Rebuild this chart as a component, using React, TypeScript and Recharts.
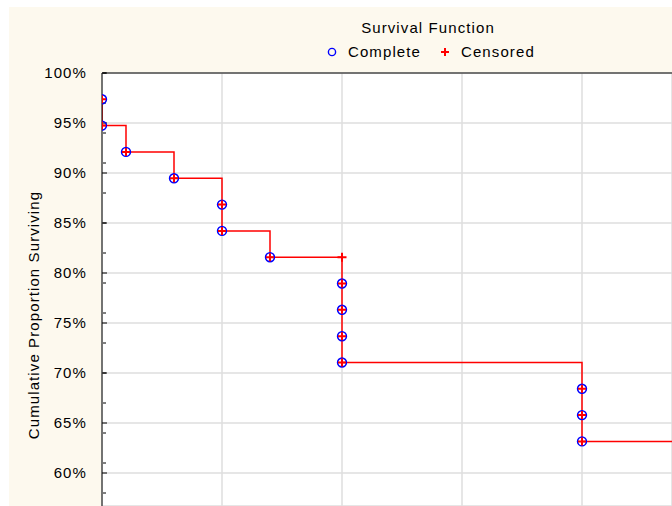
import React from 'react';
import {
  ComposedChart,
  Line,
  Scatter,
  XAxis,
  YAxis,
  CartesianGrid,
  Legend,
} from 'recharts';

// ---- data ----
const stepX = [0, 0, 2, 6, 10, 10, 14, 20, 20, 20, 20, 20, 40, 40, 40, 47.5];
const stepY = [97.37, 94.74, 92.11, 89.47, 86.84, 84.21, 81.58, 81.58, 78.95, 76.32, 73.68, 71.05, 68.42, 65.79, 63.16, 63.16];

const completeX = [0, 0, 2, 6, 10, 10, 14, 20, 20, 20, 20, 40, 40, 40];
const completeY = [97.37, 94.74, 92.11, 89.47, 86.84, 84.21, 81.58, 78.95, 76.32, 73.68, 71.05, 68.42, 65.79, 63.16];

const censoredX = [20];
const censoredY = [81.58];

const legendOrder = ['Complete', 'Censored'];

const xDomain = [0, 47.5];
const xGridTicks = [0, 10, 20, 30, 40];
const yDomain = [56.7, 100];
const yMajorTicks = [60, 65, 70, 75, 80, 85, 90, 95, 100];
const yMinorTicks = [57, 58, 59, 60, 61, 62, 63, 64, 65, 66, 67, 68, 69, 70, 71, 72, 73, 74, 75, 76, 77, 78, 79, 80, 81, 82, 83, 84, 85, 86, 87, 88, 89, 90, 91, 92, 93, 94, 95, 96, 97, 98, 99, 100];
const topDomain = [-1.242, 23.43];
const topMinorTicks = [-1, 0, 1, 2, 3, 4, 5, 6, 7, 8, 9, 10, 11, 12, 13, 14, 15, 16, 17, 18, 19, 20, 21, 22, 23];
const topMajorTicks = [0, 5, 10, 15, 20];

const stepData = stepX.map((x, i) => ({ x, y: stepY[i] }));
const completeData = completeX.map((x, i) => ({ x, y: completeY[i] }));
const censoredData = censoredX.map((x, i) => ({ x, y: censoredY[i] }));

const FONT = '"Liberation Sans", Arial, sans-serif';
const LS = 1.1;

const CompleteShape = (props: any) => {
  const { cx, cy } = props;
  return (
    <g>
      <circle cx={cx} cy={cy} r={4.4} fill="none" stroke="#0000ff" strokeWidth={1.6} />
      <path d={`M${cx - 4},${cy}H${cx + 4}M${cx},${cy - 4}V${cy + 4}`} stroke="#ff0000" strokeWidth={2} />
    </g>
  );
};

const CensoredShape = (props: any) => {
  const { cx, cy } = props;
  return (
    <path d={`M${cx - 4.5},${cy}H${cx + 4.5}M${cx},${cy - 4.5}V${cy + 4.5}`} stroke="#ff0000" strokeWidth={2} />
  );
};

const NoTick = () => <g />;

const LegendIcon = ({ name }: { name: string }) =>
  name === 'Complete' ? (
    <svg width={12} height={12} style={{ display: 'block' }}>
      <circle cx={6} cy={6} r={3.6} fill="none" stroke="#0000ff" strokeWidth={1.4} />
    </svg>
  ) : (
    <svg width={12} height={12} style={{ display: 'block' }}>
      <path d="M2,6H10M6,2V10" stroke="#ff0000" strokeWidth={2} />
    </svg>
  );

const renderLegend = (props: any) => {
  const items = (props.payload || [])
    .filter((p: any) => legendOrder.includes(p.value))
    .sort((a: any, b: any) => legendOrder.indexOf(a.value) - legendOrder.indexOf(b.value));
  return (
    <div style={{ position: 'relative', width: 672, height: 48, fontFamily: FONT, fontSize: 15, letterSpacing: LS, color: '#000' }}>
      <div style={{ position: 'absolute', left: 294, width: 268, top: 0, textAlign: 'center', whiteSpace: 'nowrap' }}>
        Survival Function
      </div>
      <div style={{ position: 'absolute', left: 326, top: 24, display: 'flex', alignItems: 'center', whiteSpace: 'nowrap' }}>
        {items.map((p: any, i: number) => (
          <div key={i} style={{ display: 'flex', alignItems: 'center', marginLeft: i === 0 ? 0 : 18 }}>
            <LegendIcon name={p.value} />
            <span style={{ marginLeft: 10 }}>{p.value}</span>
          </div>
        ))}
      </div>
    </div>
  );
};

const YLabel = (props: any) => {
  const vb = props.viewBox || { x: 42, y: 73, width: 60, height: 433 };
  const cx = vb.x - 8.5;
  const cy = vb.y + vb.height / 2 + 25.5;
  return (
    <text
      x={cx}
      y={cy}
      transform={`rotate(-90, ${cx}, ${cy})`}
      textAnchor="middle"
      dominantBaseline="central"
      fontFamily={FONT}
      fontSize={15}
      letterSpacing={LS}
      fill="#000"
    >
      Cumulative Proportion Surviving
    </text>
  );
};

export default function App() {
  return (
    <div style={{ position: 'absolute', left: 0, top: 0, width: 672, height: 506, overflow: 'hidden', background: '#ffffff' }}>
      <div style={{ position: 'absolute', left: 9, top: 7, right: 0, bottom: 0, background: '#fdf9ee' }} />
      <div style={{ position: 'absolute', left: 0, top: 0 }}>
        <ComposedChart width={672} height={506} margin={{ top: 73, right: 0, bottom: 0, left: 42 }}>
          <CartesianGrid stroke="#dedede" strokeWidth={1.5} fill="#ffffff" fillOpacity={1} vertical horizontal />
          <XAxis dataKey="x" type="number" domain={xDomain} ticks={xGridTicks} hide allowDataOverflow />
          <XAxis
            xAxisId="top"
            orientation="top"
            type="number"
            domain={topDomain}
            ticks={topMinorTicks}
            allowDataOverflow
            mirror
            height={1}
            tickSize={3}
            tick={<NoTick />}
            axisLine={{ stroke: '#000', strokeWidth: 1 }}
            tickLine={{ stroke: '#000', strokeWidth: 1 }}
          />
          <XAxis
            xAxisId="topMajor"
            orientation="top"
            type="number"
            domain={topDomain}
            ticks={topMajorTicks}
            allowDataOverflow
            mirror
            height={1}
            tickSize={5}
            tick={<NoTick />}
            axisLine={false}
            tickLine={{ stroke: '#000', strokeWidth: 1 }}
          />
          <YAxis
            dataKey="y"
            type="number"
            domain={yDomain}
            ticks={yMajorTicks}
            allowDataOverflow
            width={60}
            tickLine={false}
            tickMargin={9}
            tickFormatter={(v: number) => `${v}%`}
            tick={{ fontFamily: FONT, fontSize: 15, fill: '#000', letterSpacing: LS }}
            axisLine={{ stroke: '#000', strokeWidth: 1 }}
            label={<YLabel />}
          />
          <YAxis
            yAxisId="minor"
            type="number"
            domain={yDomain}
            ticks={yMinorTicks}
            allowDataOverflow
            mirror
            width={1}
            tickSize={3}
            tick={<NoTick />}
            axisLine={false}
            tickLine={{ stroke: '#000', strokeWidth: 1 }}
          />
          <YAxis
            yAxisId="major"
            type="number"
            domain={yDomain}
            ticks={yMajorTicks}
            allowDataOverflow
            mirror
            width={1}
            tickSize={5}
            tick={<NoTick />}
            axisLine={false}
            tickLine={{ stroke: '#000', strokeWidth: 1 }}
          />
          <Legend
            layout="horizontal"
            align="center"
            verticalAlign="middle"
            content={renderLegend}
            wrapperStyle={{ top: 19, left: 0, width: 672, height: 48 }}
          />
          <Line
            data={stepData}
            dataKey="y"
            type="stepAfter"
            stroke="#ff0000"
            strokeWidth={1.5}
            dot={false}
            activeDot={false}
            legendType="none"
            isAnimationActive={false}
          />
          <Scatter name="Complete" data={completeData} dataKey="y" shape={<CompleteShape />} isAnimationActive={false} />
          <Scatter name="Censored" data={censoredData} dataKey="y" shape={<CensoredShape />} isAnimationActive={false} />
        </ComposedChart>
      </div>
    </div>
  );
}
